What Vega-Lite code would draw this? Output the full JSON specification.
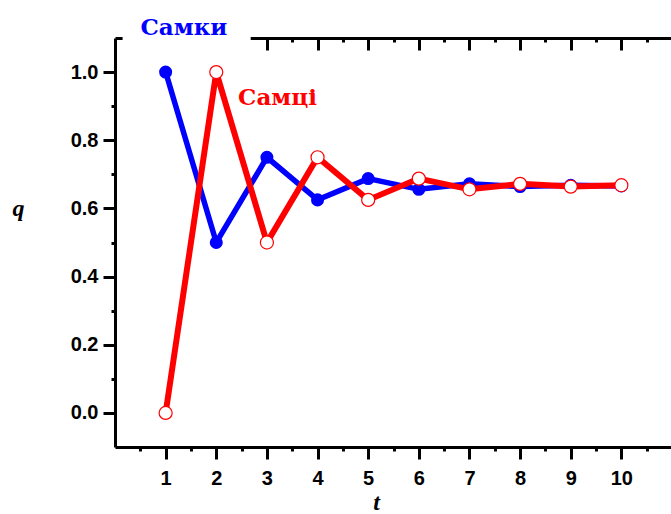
{
  "$schema": "https://vega.github.io/schema/vega-lite/v6.json",
  "width": 557,
  "height": 409,
  "autosize": "none",
  "padding": {"left": 115, "top": 38, "right": 0, "bottom": 67},
  "background": "white",
  "config": {"view": {"stroke": null}},
  "data": {
    "values": [
      {"t": 1, "q": 1.0, "sex": "Самки"},
      {"t": 2, "q": 0.5, "sex": "Самки"},
      {"t": 3, "q": 0.75, "sex": "Самки"},
      {"t": 4, "q": 0.625, "sex": "Самки"},
      {"t": 5, "q": 0.6875, "sex": "Самки"},
      {"t": 6, "q": 0.656, "sex": "Самки"},
      {"t": 7, "q": 0.672, "sex": "Самки"},
      {"t": 8, "q": 0.664, "sex": "Самки"},
      {"t": 9, "q": 0.668, "sex": "Самки"},
      {"t": 10, "q": 0.666, "sex": "Самки"},
      {"t": 1, "q": 0.0, "sex": "Самці"},
      {"t": 2, "q": 1.0, "sex": "Самці"},
      {"t": 3, "q": 0.5, "sex": "Самці"},
      {"t": 4, "q": 0.75, "sex": "Самці"},
      {"t": 5, "q": 0.625, "sex": "Самці"},
      {"t": 6, "q": 0.6875, "sex": "Самці"},
      {"t": 7, "q": 0.656, "sex": "Самці"},
      {"t": 8, "q": 0.672, "sex": "Самці"},
      {"t": 9, "q": 0.664, "sex": "Самці"},
      {"t": 10, "q": 0.668, "sex": "Самці"}
    ]
  },
  "resolve": {"axis": {"x": "independent"}},
  "layer": [
    {
      "transform": [{"filter": "datum.sex == 'Самки'"}],
      "mark": {"type": "line", "color": "#0000ff", "strokeWidth": 5.5},
      "encoding": {
        "x": {
          "field": "t", "type": "quantitative",
          "scale": {"domain": [0, 11], "nice": false, "zero": false},
          "axis": {
            "orient": "bottom",
            "values": [0.5, 1, 1.5, 2, 2.5, 3, 3.5, 4, 4.5, 5, 5.5, 6, 6.5, 7, 7.5, 8, 8.5, 9, 9.5, 10, 10.5],
            "labelExpr": "datum.value == floor(datum.value) ? format(datum.value, 'd') : ''",
            "tickSize": {"condition": {"test": "datum.value == floor(datum.value)", "value": 12}, "value": 4},
            "grid": false,
            "domainColor": "black", "domainWidth": 3,
            "tickColor": "black", "tickWidth": 3,
            "labelFont": "Liberation Sans", "labelFontWeight": "bold", "labelFontSize": 20,
            "labelColor": "black", "labelPadding": 9, "labelBaseline": "top",
            "title": "t",
            "titleFont": "Liberation Serif", "titleFontStyle": "italic", "titleFontWeight": "bold",
            "titleFontSize": 24, "titleColor": "black",
            "titleX": 261, "titleY": 55, "titleAlign": "center", "titleBaseline": "middle",
            "zindex": 0
          }
        },
        "y": {
          "field": "q", "type": "quantitative",
          "scale": {"domain": [-0.1, 1.1], "nice": false, "zero": false},
          "axis": {
            "orient": "left",
            "values": [0, 0.1, 0.2, 0.3, 0.4, 0.5, 0.6, 0.7, 0.8, 0.9, 1.0],
            "labelExpr": "abs(round(datum.value*10)) % 2 == 0 ? format(datum.value, '.1f') : ''",
            "tickSize": {"condition": {"test": "abs(round(datum.value*10)) % 2 == 0", "value": 12}, "value": 4},
            "grid": false,
            "domainColor": "black", "domainWidth": 3,
            "tickColor": "black", "tickWidth": 3,
            "labelFont": "Liberation Sans", "labelFontWeight": "bold", "labelFontSize": 20,
            "labelColor": "black", "labelPadding": 5,
            "title": "q", "titleAngle": 0,
            "titleFont": "Liberation Serif", "titleFontStyle": "italic", "titleFontWeight": "bold",
            "titleFontSize": 24, "titleColor": "black",
            "titleX": -97, "titleY": 170, "titleAlign": "center", "titleBaseline": "middle",
            "zindex": 0
          }
        }
      }
    },
    {
      "transform": [{"filter": "datum.sex == 'Самки'"}],
      "mark": {"type": "point", "filled": true, "color": "#0000ff", "size": 170, "opacity": 1},
      "encoding": {
        "x": {"field": "t", "type": "quantitative", "axis": null},
        "y": {"field": "q", "type": "quantitative"}
      }
    },
    {
      "transform": [{"filter": "datum.sex == 'Самці'"}],
      "mark": {"type": "line", "color": "#ff0000", "strokeWidth": 6},
      "encoding": {
        "x": {
          "field": "t", "type": "quantitative",
          "axis": {
            "orient": "top",
            "values": [0.5, 1, 1.5, 2, 2.5, 3, 3.5, 4, 4.5, 5, 5.5, 6, 6.5, 7, 7.5, 8, 8.5, 9, 9.5, 10, 10.5],
            "labels": false,
            "tickSize": {"condition": {"test": "datum.value == floor(datum.value)", "value": -12}, "value": -4},
            "grid": false,
            "domainColor": "black", "domainWidth": 3,
            "tickColor": "black", "tickWidth": 3,
            "title": null,
            "zindex": 0
          }
        },
        "y": {"field": "q", "type": "quantitative"}
      }
    },
    {
      "transform": [{"filter": "datum.sex == 'Самці'"}],
      "mark": {"type": "point", "filled": true, "fill": "white", "stroke": "#ff0000", "strokeWidth": 1.2, "size": 170, "opacity": 1},
      "encoding": {
        "x": {"field": "t", "type": "quantitative", "axis": null},
        "y": {"field": "q", "type": "quantitative"}
      }
    },
    {
      "data": {"values": [{"label": "Самки"}]},
      "mark": {"type": "rect", "color": "white", "opacity": 1},
      "encoding": {
        "x": {"datum": 0.15, "type": "quantitative", "axis": null},
        "x2": {"datum": 2.68},
        "y": {"datum": 1.035, "type": "quantitative"},
        "y2": {"datum": 1.35}
      }
    },
    {
      "data": {"values": [{"label": "Самки"}]},
      "mark": {"type": "text", "color": "#0000ff", "font": "DejaVu Serif", "fontWeight": "bold", "fontSize": 23, "align": "center", "baseline": "middle"},
      "encoding": {
        "x": {"datum": 1.36, "type": "quantitative", "axis": null},
        "y": {"datum": 1.13, "type": "quantitative"},
        "text": {"field": "label"}
      }
    },
    {
      "data": {"values": [{"label": "Самці"}]},
      "mark": {"type": "text", "color": "#ff0000", "font": "DejaVu Serif", "fontWeight": "bold", "fontSize": 23, "align": "center", "baseline": "middle"},
      "encoding": {
        "x": {"datum": 3.21, "type": "quantitative", "axis": null},
        "y": {"datum": 0.925, "type": "quantitative"},
        "text": {"field": "label"}
      }
    }
  ]
}
